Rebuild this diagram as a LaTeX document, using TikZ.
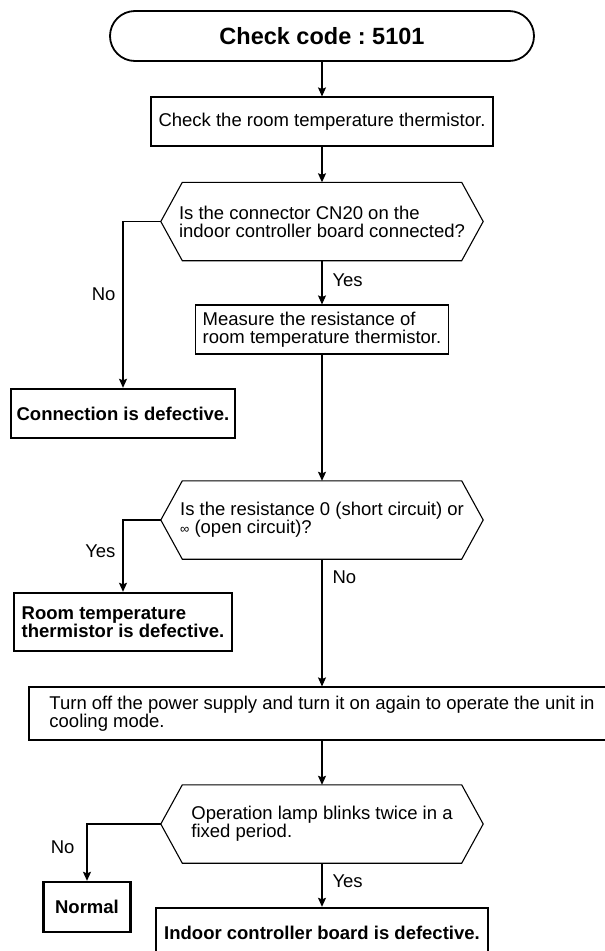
\documentclass[tikz,border=0pt]{standalone}
\usepackage{fontspec}
\setmainfont{Liberation Sans}
\usetikzlibrary{arrows.meta}
\frenchspacing

\tikzset{
  box/.style={draw, line width=1.1pt, minimum height=49pt, inner sep=3pt,
    align=left, font=\fontsize{18.5}{18}\selectfont},
  endbox/.style={draw, line width=2.4pt, minimum height=49pt, inner sep=3pt,
    align=left, font=\fontsize{18.5}{18}\selectfont\bfseries},
  ask/.style={minimum width=322pt, minimum height=78pt, inner sep=0pt,
    align=left, font=\fontsize{18.5}{18}\selectfont},
  flow/.style={line width=1.1pt, -{Stealth[length=9pt,width=8pt,inset=1.5pt]}},
  lbl/.style={font=\fontsize{18.5}{18}\selectfont, inner sep=0pt}
}

\begin{document}
\begin{tikzpicture}[x=1pt, y=-1pt]
\useasboundingbox (0,0) rectangle (605,951);
\clip (0,0) rectangle (605,951);

\node[draw, line width=1.8pt, rounded corners=25pt, minimum width=424pt,
  minimum height=50pt, font=\fontsize{23.5}{24}\selectfont\bfseries]
  (start) at (322,36) {Check code : 5101};
\node[box, minimum width=342pt] (chk) at (322,121.5)
  {Check the room temperature thermistor.};
\node[ask] (q1) at (322,221.5)
  {Is the connector CN20 on the\\indoor controller board connected?};
\node[box, minimum width=253pt] (meas) at (322,329.5)
  {Measure the resistance of\\room temperature thermistor.};
\node[endbox, minimum width=224.5pt] (conn) at (123,413.5)
  {Connection is defective.};
\node[ask] (q2) at (322,520)
  {Is the resistance 0 (short circuit) or\\{\fontsize{13}{18}\selectfont ∞} (open circuit)?};
\node[endbox, minimum width=218.5pt, minimum height=58pt] (thm) at (123,622)
  {Room temperature\\thermistor is defective.};
\node[box, minimum width=586pt, minimum height=53pt] (pwr) at (322,713.5)
  {Turn off the power supply and turn it on again to operate the unit in\\cooling mode.};
\node[ask] (q3) at (322,824)
  {Operation lamp blinks twice in a\\fixed period.};
\node[endbox, minimum width=87pt, minimum height=50pt] (norm) at (87,907)
  {Normal};
\node[endbox, minimum width=332pt, minimum height=50pt] (board) at (322,933)
  {Indoor controller board is defective.};

% decision outlines
\foreach \q in {q1,q2,q3}
  \draw[line width=1.1pt] (\q.west) -- ([xshift=21.5pt]\q.north west)
    -- ([xshift=-21.5pt]\q.north east) -- (\q.east)
    -- ([xshift=-21.5pt]\q.south east) -- ([xshift=21.5pt]\q.south west) -- cycle;

\draw[flow] (start) -- (chk);
\draw[flow] (chk) -- (q1);
\draw[flow] (q1) -- node[lbl, right=10pt, pos=0.45] {Yes} (meas);
\draw[flow] (q1.west) -| node[lbl, left=7pt, pos=0.72] {No} (conn);
\draw[flow] (meas) -- (q2);
\draw[flow] (q2.west) -| node[lbl, left=7pt, pos=0.72] {Yes} (thm);
\draw[flow] (q2) -- node[lbl, right=10pt, pos=0.14] {No} (pwr);
\draw[flow] (pwr) -- (q3);
\draw[flow] (q3.west) -| node[lbl, left=12pt, pos=0.70] {No} (norm);
\draw[flow] (q3) -- node[lbl, right=10pt, pos=0.42] {Yes} (board);
\end{tikzpicture}
\end{document}
